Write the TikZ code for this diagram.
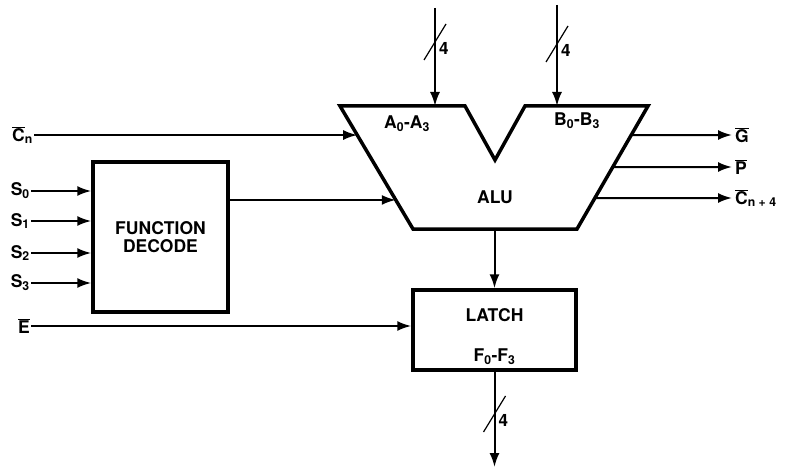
\documentclass[tikz,border=0pt]{standalone}
\usepackage{fontspec}
\setmainfont{TeX Gyre Heros}
\usepackage{tikz}
\usetikzlibrary{arrows.meta, positioning, calc}
\newcommand*\negsig[1]{$\overline{\mbox{#1}}$}
\newcommand*\busslash[2]{%
    \draw [slash] ($(#1)+(-11,18)$) -- ($(#1)+(11,-18)$);
    \node (#2) [buslabel, right=4pt of #1, yshift=-6pt] {4};}
\tikzstyle{block} = [rectangle, draw=black, line width=3.5pt, align=center, font=\fontsize{17.5pt}{18pt}\selectfont\bfseries]
\tikzstyle{outline} = [draw=black, line width=3.5pt, line join=miter]
\tikzstyle{pinlabel} = [inner sep=1pt, font=\fontsize{17.5pt}{18pt}\selectfont\bfseries]
\tikzstyle{buslabel} = [inner sep=0pt, font=\fontsize{17pt}{18pt}\selectfont\bfseries]
\tikzstyle{arrow} = [line width=2pt, -{Latex[length=14pt, width=10pt]}]
\tikzstyle{slash} = [line width=1.2pt]

\begin{document}
\begin{tikzpicture}[x=1pt, y=-1pt]
    \useasboundingbox (0,0) rectangle (792,468);

    % === ALU ===
    \coordinate (alutl) at (340,106);
    \coordinate (alua) at (465,106);
    \coordinate (aluv) at (495,160);
    \coordinate (alub) at (525,106);
    \coordinate (alutr) at (648,106);
    \coordinate (alubr) at (577,229);
    \coordinate (alubl) at (413,229);
    \draw [outline] (alutl) -- (alua) -- (aluv) -- (alub) -- (alutr) -- (alubr) -- (alubl) -- cycle;
    \node (alu) [pinlabel] at (495,197) {ALU};
    \node (aport) [pinlabel] at (407,124) {A\textsubscript{0}-A\textsubscript{3}};
    \node (bport) [pinlabel] at (577,121) {B\textsubscript{0}-B\textsubscript{3}};

    % operand buses
    \coordinate (ain) at (435,8);
    \coordinate (bin) at (557,5);
    \coordinate (aslash) at (435,42);
    \coordinate (bslash) at (557,44);
    \draw [arrow] (ain) -- (ain |- alutl);
    \draw [arrow] (bin) -- (bin |- alutl);
    \busslash{aslash}{awidth}
    \busslash{bslash}{bwidth}

    % carry in
    \node (cn) [pinlabel, anchor=east] at (34,135) {\negsig{C}\textsubscript{n}};
    \coordinate (cnin) at ($(alutl)!0.236!(alubl)$);
    \draw [arrow] (cn.east |- cnin) -- (cnin);

    % === FUNCTION DECODE ===
    \node (decode) [block, minimum width=135pt, minimum height=150pt] at (160.5,237) {FUNCTION\\DECODE};
    \foreach \i/\y in {0/191,1/221,2/253,3/283} {
        \node (s\i) [pinlabel, anchor=east] at (31,\y) {S\textsubscript{\i}};
        \draw [arrow] (s\i.east) -- (s\i.east -| decode.west);
    }
    \coordinate (fdin) at ($(alutl)!0.764!(alubl)$);
    \draw [arrow] (decode.east |- fdin) -- (fdin);

    % === STATUS OUTPUTS ===
    \foreach \name/\y/\t/\txt in {g/135/0.236/\negsig{G}, p/167/0.496/\negsig{P}, cout/198/0.748/{\negsig{C}\textsubscript{n + 4}}} {
        \coordinate (\name from) at ($(alutr)!\t!(alubr)$);
        \coordinate (\name to) at (732,\y);
        \draw [arrow] (\name from) -- (\name to);
        \node (\name) [pinlabel, anchor=west] at (734,\y) {\txt};
    }

    % === LATCH ===
    \node (latch) [block, minimum width=163pt, minimum height=80pt] at (494.5,330) {};
    \node (latchname) [pinlabel] at ($(latch.north)+(0,27)$) {LATCH};
    \node (latchout) [pinlabel] at ($(latch.south)+(0,-15)$) {F\textsubscript{0}-F\textsubscript{3}};
    \draw [arrow] (latch.north |- alubl) -- (latch.north);

    \node (e) [pinlabel, anchor=east] at (31,326) {\negsig{E}};
    \draw [arrow] (e.east) -- (e.east -| latch.west);

    % result bus
    \coordinate (fout) at (494.5,467);
    \coordinate (fslash) at (494.5,414);
    \draw [arrow] (latch.south) -- (fout);
    \busslash{fslash}{fwidth}
\end{tikzpicture}
\end{document}
